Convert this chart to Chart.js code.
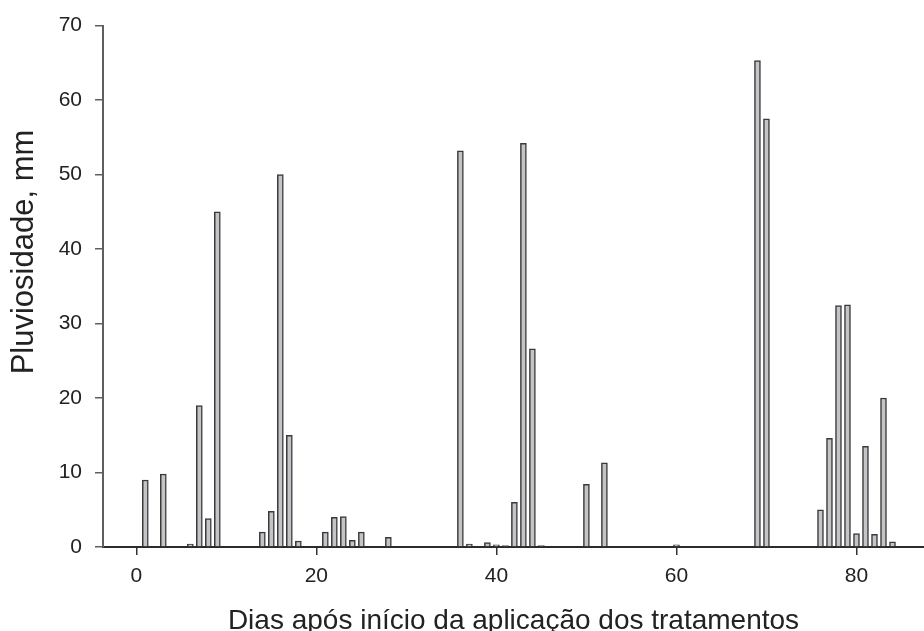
<!DOCTYPE html>
<html>
<head>
<meta charset="utf-8">
<script src="https://cdn.jsdelivr.net/npm/chart.js@4.4.1/dist/chart.umd.min.js"></script>
<style>
  html, body { margin: 0; padding: 0; background: #fff; }
  #wrap { width: 924px; height: 631px; position: relative; }
</style>
</head>
<body>
<div id="wrap"><canvas id="chart"></canvas></div>
<script>
// rainfall per day after the start of treatments
const days = [1, 3, 6, 7, 8, 9, 14, 15, 16, 17, 18, 21, 22, 23, 24, 25, 28,
  36, 37, 39, 40, 41, 42, 43, 44, 45, 50, 52, 60,
  69, 70, 76, 77, 78, 79, 80, 81, 82, 83, 84];
const rain = [9.0, 9.8, 0.4, 19.0, 3.8, 45.0, 2.0, 4.8, 50.0, 15.0, 0.8, 2.0, 4.0, 4.1, 0.9, 2.0, 1.3,
  53.2, 0.4, 0.6, 0.3, 0.2, 6.0, 54.2, 26.6, 0.2, 8.4, 11.3, 0.3,
  65.3, 57.5, 5.0, 14.6, 32.4, 32.5, 1.8, 13.5, 1.7, 20.0, 0.7];
const xTicks = [0, 20, 40, 60, 80];
const yTitle = 'Pluviosidade, mm';
const xTitle = 'Dias após início da aplicação dos tratamentos';

const font = "'Liberation Sans', Arial, sans-serif";

// y title sits a bit above the axis centre in the original, so draw it by hand
const yTitlePlugin = {
  id: 'yTitle',
  afterDraw(chart) {
    const ctx = chart.ctx;
    ctx.save();
    ctx.translate(24, 252);
    ctx.rotate(-Math.PI / 2);
    ctx.font = '31px ' + font;
    ctx.fillStyle = '#222';
    ctx.textAlign = 'center';
    ctx.textBaseline = 'middle';
    ctx.fillText(yTitle, 0, 0);
    ctx.restore();
  }
};

new Chart(document.getElementById('chart'), {
  type: 'bar',
  data: {
    datasets: [{
      data: days.map((d, i) => ({ x: d, y: rain[i] })),
      backgroundColor: '#c4c4c8',
      borderColor: '#3a3a3a',
      borderWidth: 1.5,
      barThickness: 6
    }]
  },
  options: {
    responsive: true,
    maintainAspectRatio: false,
    animation: false,
    layout: { padding: { top: 23.5, left: 0, right: 0, bottom: 0 } },
    plugins: {
      legend: { display: false },
      tooltip: { enabled: false }
    },
    scales: {
      x: {
        type: 'linear',
        offset: false,
        min: -3.7,
        max: 87.5,
        afterBuildTicks: (scale) => { scale.ticks = xTicks.map(v => ({ value: v })); },
        afterFit: (scale) => { scale.height = 84; },
        grid: { display: true, offset: false, drawOnChartArea: false, tickLength: 8, color: '#333', lineWidth: 1.5 },
        border: { color: '#2b2b2b', width: 2 },
        ticks: { font: { family: font, size: 21 }, color: '#222', padding: 9, maxRotation: 0 },
        title: {
          display: true,
          text: xTitle,
          font: { family: font, size: 28, lineHeight: 1 },
          color: '#222',
          padding: { top: 0, bottom: -4 }
        }
      },
      y: {
        min: 0,
        max: 70,
        afterFit: (scale) => { scale.width = 103; },
        grid: { display: true, drawOnChartArea: false, tickLength: 8, color: '#5f5f5f', lineWidth: 1.5 },
        border: { color: '#5f5f5f', width: 2 },
        ticks: { stepSize: 10, font: { family: font, size: 21 }, color: '#222', padding: 13 }
      }
    }
  },
  plugins: [yTitlePlugin]
});
</script>
</body>
</html>
